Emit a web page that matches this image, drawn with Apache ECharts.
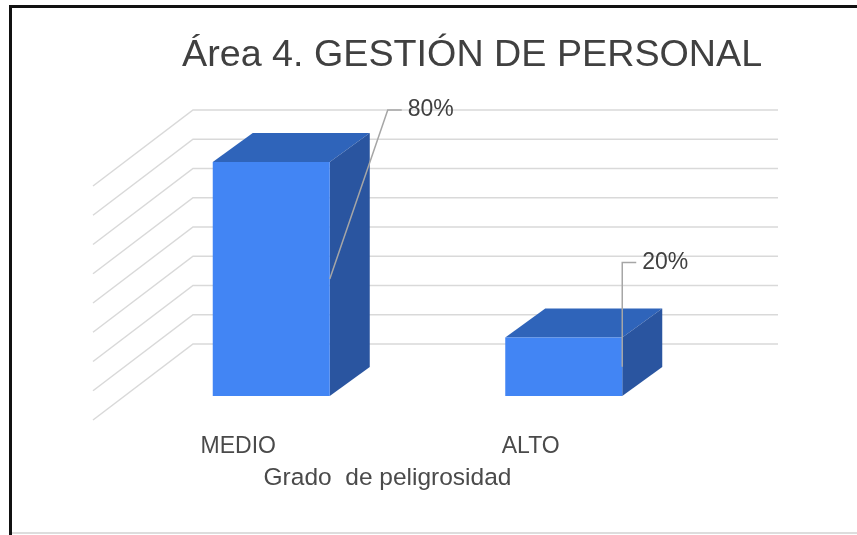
<!DOCTYPE html>
<html>
<head>
<meta charset="utf-8">
<script src="https://cdn.jsdelivr.net/npm/echarts@6/dist/echarts.min.js"></script>
<style>
html,body{margin:0;padding:0;background:#fff;}
#chart{width:857px;height:535px;}
</style>
</head>
<body>
<div id="chart"></div>
<script>
// ---- data ----
const categories = ['MEDIO', 'ALTO'];
const values = [0.8, 0.2];
const gridLevels = [0, 0.1, 0.2, 0.3, 0.4, 0.5, 0.6, 0.7, 0.8];
const titleText = 'Área 4. GESTIÓN DE PERSONAL';
const axisTitle = 'Grado  de peligrosidad';

// ---- layout / style ----
const FONT = '"Liberation Sans", Arial, sans-serif';
const depthBar = [40, -29];
const wallBack = [68, -52];
const wallFront = [-32, 24];
const labelLayout = [[58, -52], [0, -75]];
const colFront = '#4285F4', colTop = '#2F64BA', colSide = '#2A55A0';

const chart = echarts.init(document.getElementById('chart'));
const option = {
  backgroundColor: '#ffffff',
  animation: false,
  title: {
    text: titleText,
    left: 177,
    top: 32,
    textStyle: { fontFamily: FONT, fontSize: 37.7, fontWeight: 'normal', color: '#404040' }
  },
  grid: { left: 125, right: 147, top: 162, bottom: 139 },
  xAxis: {
    type: 'category',
    data: categories,
    axisLine: { show: false },
    axisTick: { show: false },
    axisLabel: {
      fontFamily: FONT, fontSize: 23, color: '#4A4A4A',
      margin: 39, padding: [0, 66, 0, 0]
    },
    name: axisTitle,
    nameLocation: 'middle',
    nameGap: 70,
    nameTextStyle: { fontFamily: FONT, fontSize: 24.5, color: '#4A4A4A', padding: [0, 60, 0, 0] }
  },
  yAxis: {
    type: 'value', min: 0, max: 0.8, interval: 0.1,
    axisLine: { show: false }, axisTick: { show: false },
    axisLabel: { show: false }, splitLine: { show: false }
  },
  graphic: [
    { type: 'rect', shape: { x: 9, y: 5, width: 848, height: 3 }, style: { fill: '#111' }, z: 100 },
    { type: 'rect', shape: { x: 9, y: 5, width: 3, height: 530 }, style: { fill: '#111' }, z: 100 },
    { type: 'rect', shape: { x: 12, y: 532, width: 845, height: 2 }, style: { fill: '#DDDDDD' }, z: 100 }
  ],
  series: [
    {
      type: 'custom',
      z: 1,
      data: gridLevels.map(v => [0, v]),
      encode: { x: 0, y: 1 },
      silent: true,
      renderItem: function (params, api) {
        const cs = params.coordSys;
        const y = api.coord([0, api.value(1)])[1];
        return {
          type: 'polyline',
          shape: { points: [
            [cs.x + wallFront[0], y + wallFront[1]],
            [cs.x + wallBack[0], y + wallBack[1]],
            [cs.x + cs.width + wallBack[0], y + wallBack[1]]
          ] },
          style: { stroke: '#D9D9D9', lineWidth: 1.5, fill: null }
        };
      }
    },
    {
      type: 'custom',
      z: 2,
      data: values.map((v, i) => [i, v]),
      encode: { x: 0, y: 1 },
      renderItem: function (params, api) {
        const i = api.value(0), v = api.value(1);
        const top = api.coord([i, v]);
        const base = api.coord([i, 0]);
        const bw = api.size([1, 0])[0] * 0.4;
        const x0 = top[0] - bw / 2, x1 = top[0] + bw / 2;
        const dx = depthBar[0], dy = depthBar[1];
        const L = labelLayout[params.dataIndex];
        const ex = x1 + L[0], ey = top[1] + L[1];
        return {
          type: 'group',
          children: [
            { type: 'polygon', shape: { points: [[x0, top[1]], [x0 + dx, top[1] + dy], [x1 + dx, top[1] + dy], [x1, top[1]]] }, style: { fill: colTop } },
            { type: 'polygon', shape: { points: [[x1, top[1]], [x1 + dx, top[1] + dy], [x1 + dx, base[1] + dy], [x1, base[1]]] }, style: { fill: colSide } },
            { type: 'rect', shape: { x: x0, y: top[1], width: bw, height: base[1] - top[1] }, style: { fill: colFront } },
            { type: 'polyline', shape: { points: [[x1, (top[1] + base[1]) / 2], [ex, ey], [ex + 14, ey]] }, style: { stroke: '#A6A6A6', lineWidth: 1.5, fill: null } },
            { type: 'text', x: ex + 20, y: ey, style: { text: Math.round(v * 100) + '%', font: '23px ' + FONT, fill: '#404040', align: 'left', verticalAlign: 'middle' } }
          ]
        };
      }
    }
  ]
};
chart.setOption(option);
</script>
</body>
</html>
